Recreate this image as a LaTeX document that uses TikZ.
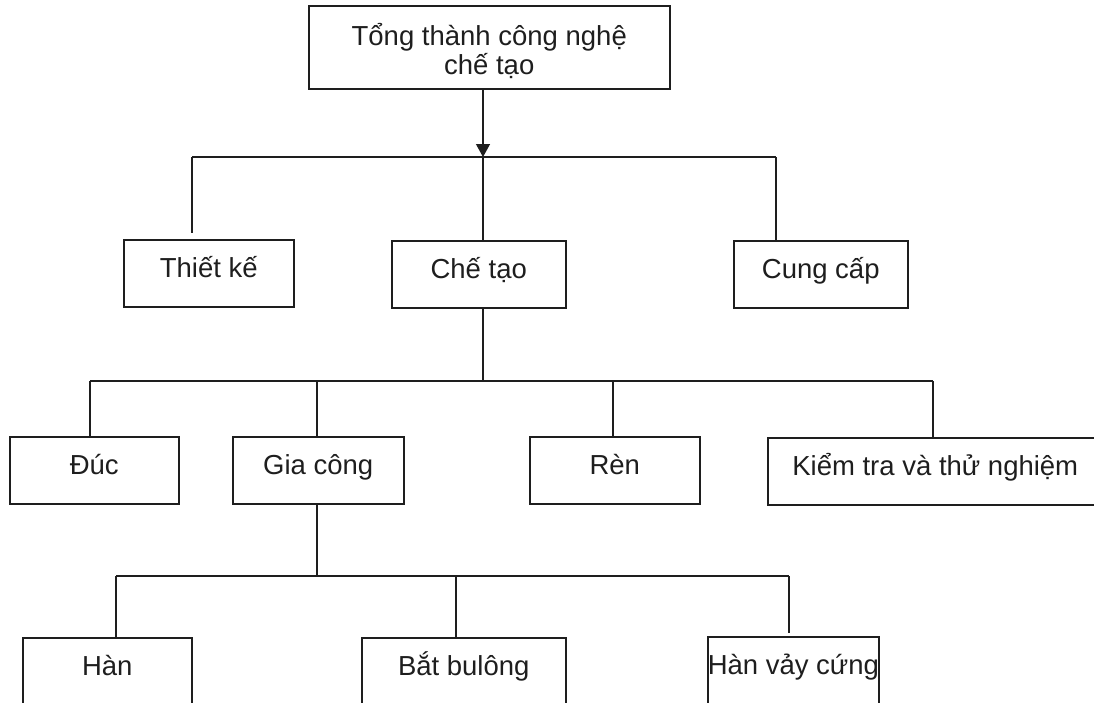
\documentclass[tikz,border=0pt]{standalone}
\usepackage{fontspec}
\setmainfont{Liberation Sans}
\usetikzlibrary{arrows.meta}
\definecolor{ink}{HTML}{1E1E1E}
\begin{document}
\begin{tikzpicture}[x=1pt,y=-1pt,
  box/.style={draw=ink, line width=1.5pt, inner sep=0pt, anchor=north west,
    text=ink, font=\fontsize{27.5}{29}\selectfont,
    text height=38pt, text depth=29pt},
  conn/.style={draw=ink, line width=1.3pt}]
\useasboundingbox (0,0) rectangle (1094,702);
\clip (0,0) rectangle (1094,702);

% boxes
\node[box, minimum width=361pt, align=center, text height=69pt, text depth=14pt]
  (tong) at (308,5) {Tổng thành công nghệ\\chế tạo};
\node[box, minimum width=170pt] (thietke) at (123,239) {Thiết kế};
\node[box, minimum width=174pt] (chetao) at (391,240) {Chế tạo};
\node[box, minimum width=174pt] (cungcap) at (733,240) {Cung cấp};

\node[box, minimum width=169pt] (duc) at (9,436) {Đúc};
\node[box, minimum width=171pt] (giacong) at (232,436) {Gia công};
\node[box, minimum width=170pt] (ren) at (529,436) {Rèn};
\node[box, minimum width=335pt] (kiemtra) at (767,437) {Kiểm tra và thử nghiệm};

\node[box, minimum width=169pt] (han) at (22,637) {Hàn};
\node[box, minimum width=204pt] (batbulong) at (361,637) {Bắt bulông};
\node[box, minimum width=171pt] (hanvay) at (707,636) {Hàn vảy cứng};

% junction coordinates
\coordinate (j1) at (483,157);
\coordinate (j1L) at (192,157);
\coordinate (j1R) at (776,157);
\coordinate (j2) at (483,381);
\coordinate (j2L) at (90,381);
\coordinate (j2A) at (317,381);
\coordinate (j2B) at (613,381);
\coordinate (j2R) at (933,381);
\coordinate (j3) at (317,576);
\coordinate (j3L) at (116,576);
\coordinate (j3A) at (456,576);
\coordinate (j3R) at (789,576);

% level 1
\draw[conn, -{Triangle[length=13pt,width=14pt]}] (tong.south -| j1) -- (j1);
\draw[conn] (j1L) -- (j1R);
\draw[conn, shorten >=6pt] (j1L) -- (j1L |- thietke.north);
\draw[conn] (j1) -- (j1 |- chetao.north);
\draw[conn] (j1R) -- (j1R |- cungcap.north);

% level 2
\draw[conn] (chetao.south -| j2) -- (j2);
\draw[conn] (j2L) -- (j2R);
\draw[conn] (j2L) -- (j2L |- duc.north);
\draw[conn] (j2A) -- (j2A |- giacong.north);
\draw[conn] (j2B) -- (j2B |- ren.north);
\draw[conn] (j2R) -- (j2R |- kiemtra.north);

% level 3
\draw[conn] (giacong.south -| j3) -- (j3);
\draw[conn] (j3L) -- (j3R);
\draw[conn] (j3L) -- (j3L |- han.north);
\draw[conn] (j3A) -- (j3A |- batbulong.north);
\draw[conn, shorten >=3pt] (j3R) -- (j3R |- hanvay.north);
\end{tikzpicture}
\end{document}
